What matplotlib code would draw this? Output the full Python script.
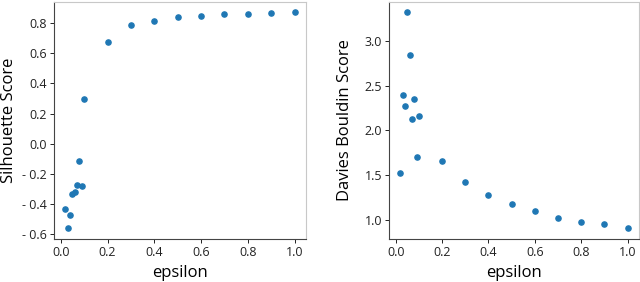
import numpy as np
import matplotlib.pyplot as plt
from matplotlib.ticker import FuncFormatter

# epsilon values and the two cluster quality scores
epsilon = [0.02, 0.03, 0.04, 0.05, 0.06, 0.07, 0.08, 0.09, 0.10,
           0.2, 0.3, 0.4, 0.5, 0.6, 0.7, 0.8, 0.9, 1.0]
silhouette = [-0.43, -0.557, -0.474, -0.331, -0.32, -0.272, -0.112, -0.281, 0.296,
              0.676, 0.788, 0.814, 0.836, 0.847, 0.86, 0.862, 0.864, 0.869]
davies = [1.525, 2.393, 2.267, 3.317, 2.84, 2.122, 2.349, 1.697, 2.166,
          1.663, 1.42, 1.28, 1.18, 1.097, 1.022, 0.974, 0.952, 0.91]

plt.rcParams['font.family'] = ['Open Sans', 'DejaVu Sans']

def fmt(v, pos):
	s = '%.1f' % abs(v)
	if v < -1e-9:
		return '- ' + s
	return s

fig = plt.figure(figsize=(6.4, 2.82), dpi=100)
ax1 = fig.add_axes([54/640, 1 - 238.7/282, 252/640, 237/282])
ax2 = fig.add_axes([389/640, 1 - 238.7/282, 250/640, 237/282])

def style(ax):
	for s in ['top', 'right']:
		ax.spines[s].set_color('#c8c8c8')
	for s in ['left', 'bottom']:
		ax.spines[s].set_color('#444444')
	for s in ax.spines.values():
		s.set_linewidth(0.8)
	ax.tick_params(labelsize=9, length=3, width=0.7, colors='#222222', pad=2)
	ax.set_xticks([0.0, 0.2, 0.4, 0.6, 0.8, 1.0])
	ax.yaxis.set_major_formatter(FuncFormatter(fmt))
	ax.set_xlabel('epsilon', fontsize=12, labelpad=4.5)

ax1.scatter(epsilon, silhouette, s=14, color='#1f77b4')
ax1.set_yticks([-0.6, -0.4, -0.2, 0.0, 0.2, 0.4, 0.6, 0.8])
ax1.set_ylabel('Silhouette Score', fontsize=12, labelpad=4)
style(ax1)

ax2.scatter(epsilon, davies, s=14, color='#1f77b4')
ax2.set_yticks([1.0, 1.5, 2.0, 2.5, 3.0])
ax2.set_ylabel('Davies Bouldin Score', fontsize=12, labelpad=8)
style(ax2)

fig.savefig('out.png', dpi=100)
